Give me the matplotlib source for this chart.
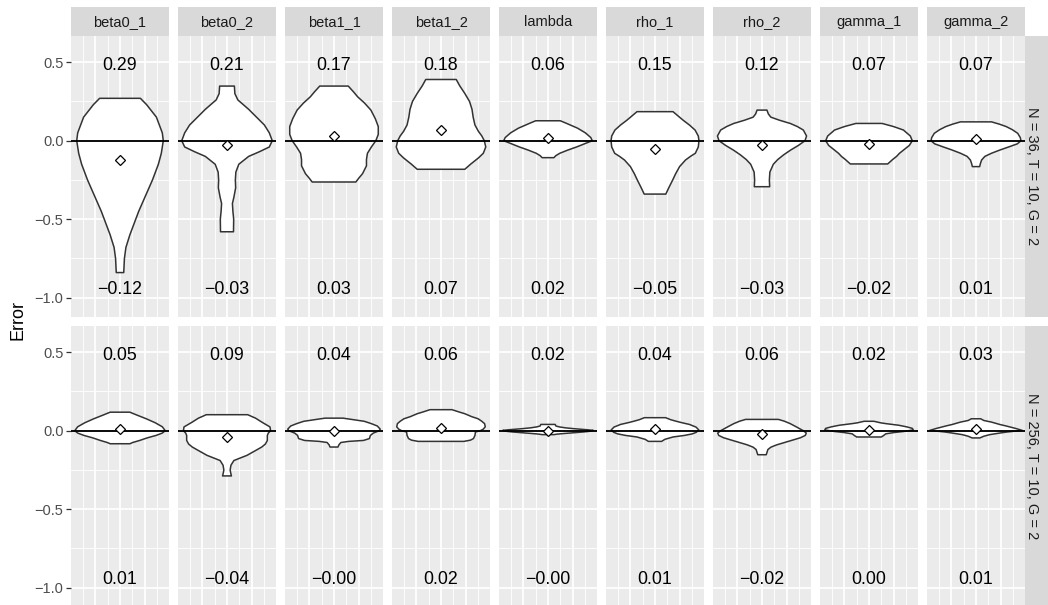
import matplotlib.pyplot as plt
from matplotlib.patches import Polygon
import numpy as np

plt.rcParams['font.family'] = ['Liberation Sans', 'DejaVu Sans']

params = ['beta0_1', 'beta0_2', 'beta1_1', 'beta1_2', 'lambda',
          'rho_1', 'rho_2', 'gamma_1', 'gamma_2']
designs = ['N = 36, T = 10, G = 2', 'N = 256, T = 10, G = 2']

# rmse (top number) and mean error (bottom number) per parameter
rmse_36 = [0.29, 0.21, 0.17, 0.18, 0.06, 0.15, 0.12, 0.07, 0.07]
rmse_256 = [0.05, 0.09, 0.04, 0.06, 0.02, 0.04, 0.06, 0.02, 0.03]
bias_36 = [-0.12, -0.03, 0.03, 0.07, 0.02, -0.05, -0.03, -0.02, 0.01]
bias_256 = [0.01, -0.04, -0.003, 0.02, -0.002, 0.01, -0.02, 0.004, 0.01]

# violin outlines: (error, half width in 1/100 x units), top to bottom
violin_36 = [
    [(0.27, 20.7), (0.23, 27), (0.15, 37), (0.05, 43), (0.0, 44), (-0.08, 42),
     (-0.15, 39), (-0.25, 33), (-0.35, 26), (-0.45, 19), (-0.5, 16),
     (-0.6, 10), (-0.68, 6), (-0.75, 4.5), (-0.84, 3.8)],
    [(0.348, 7.5), (0.30, 8), (0.26, 11), (0.2, 22), (0.15, 30), (0.1, 38),
     (0.05, 43), (0.0, 46), (-0.04, 43), (-0.07, 33), (-0.1, 22),
     (-0.15, 12), (-0.2, 9), (-0.25, 8.5), (-0.3, 8.8), (-0.36, 7),
     (-0.4, 5.5), (-0.45, 6), (-0.5, 6.8), (-0.58, 6.6)],
    [(0.348, 14.5), (0.31, 20), (0.28, 24), (0.24, 31), (0.195, 37.5),
     (0.14, 42), (0.09, 45), (0.04, 45), (0.0, 42.5), (-0.04, 38),
     (-0.08, 34), (-0.12, 33), (-0.16, 33), (-0.21, 29), (-0.24, 25),
     (-0.263, 22.2)],
    [(0.39, 15.5), (0.35, 19), (0.30, 24.3), (0.25, 29), (0.20, 31.5),
     (0.15, 32.7), (0.10, 34.5), (0.06, 38), (0.03, 41.5), (0.0, 44),
     (-0.04, 45.5), (-0.08, 43), (-0.11, 38), (-0.15, 30), (-0.182, 24.2)],
    [(0.127, 12.5), (0.11, 19), (0.08, 30), (0.05, 38), (0.02, 43.5),
     (0.0, 45), (-0.02, 37), (-0.04, 29), (-0.06, 20), (-0.08, 12),
     (-0.095, 8), (-0.108, 6)],
    [(0.185, 18.3), (0.16, 23), (0.13, 28.7), (0.1, 35), (0.068, 40.7),
     (0.03, 44), (0.0, 44.7), (-0.04, 44), (-0.08, 41), (-0.1, 36),
     (-0.123, 31), (-0.165, 25), (-0.21, 21), (-0.25, 18), (-0.3, 14),
     (-0.34, 11)],
    [(0.195, 5), (0.17, 6.5), (0.15, 9), (0.13, 18), (0.11, 28.7),
     (0.09, 36), (0.068, 42), (0.03, 45.3), (0.0, 43.7), (-0.03, 37),
     (-0.06, 29), (-0.09, 22), (-0.12, 16), (-0.15, 11.5), (-0.2, 8),
     (-0.25, 7.5), (-0.293, 7.8)],
    [(0.11, 13.3), (0.09, 25), (0.068, 35), (0.03, 42), (0.0, 44),
     (-0.03, 41), (-0.06, 35), (-0.08, 31), (-0.1, 28), (-0.12, 24),
     (-0.148, 19)],
    [(0.12, 15.8), (0.105, 24), (0.09, 30.7), (0.07, 37), (0.047, 42.4),
     (0.02, 45), (0.0, 45.7), (-0.02, 42), (-0.038, 34), (-0.06, 24),
     (-0.08, 15.7), (-0.1, 9), (-0.123, 5.7), (-0.145, 4.5), (-0.165, 3.7)],
]
violin_256 = [
    [(0.118, 10), (0.1, 17), (0.076, 26.7), (0.05, 36), (0.025, 43),
     (0.0, 46), (-0.015, 43), (-0.03, 36.7), (-0.045, 28), (-0.062, 20),
     (-0.075, 13), (-0.083, 10)],
    [(0.102, 21), (0.08, 29), (0.055, 35.3), (0.024, 43.7), (0.0, 44.3),
     (-0.015, 42), (-0.03, 41), (-0.062, 41), (-0.085, 39), (-0.104, 35.3),
     (-0.13, 28), (-0.157, 20.3), (-0.175, 13), (-0.19, 7), (-0.22, 4),
     (-0.25, 3.2), (-0.27, 3.8), (-0.288, 4.5)],
    [(0.08, 9.2), (0.07, 20), (0.06, 30.7), (0.045, 38), (0.03, 44),
     (0.01, 47), (0.0, 46), (-0.015, 40), (-0.03, 37), (-0.05, 36),
     (-0.062, 30), (-0.068, 15), (-0.075, 7), (-0.09, 5), (-0.104, 4)],
    [(0.134, 11.2), (0.12, 18), (0.108, 24.3), (0.09, 31), (0.076, 37.7),
     (0.06, 41.5), (0.045, 44.3), (0.025, 45), (0.01, 43), (0.0, 40),
     (-0.008, 35), (-0.03, 34.5), (-0.05, 33), (-0.06, 30), (-0.068, 23.3)],
    [(0.04, 7.3), (0.03, 8), (0.024, 11.7), (0.018, 18), (0.012, 28),
     (0.006, 40), (0.002, 46), (-0.004, 42), (-0.008, 36), (-0.013, 26),
     (-0.018, 16), (-0.022, 9), (-0.025, 6)],
    [(0.083, 10.8), (0.07, 16), (0.06, 21.7), (0.05, 28), (0.04, 35),
     (0.023, 41.7), (0.005, 44.5), (-0.01, 42), (-0.02, 38), (-0.03, 30),
     (-0.04, 18.3), (-0.055, 10), (-0.068, 6.7)],
    [(0.072, 16.7), (0.06, 23), (0.045, 28.7), (0.023, 35.3), (0.0, 42),
     (-0.015, 45), (-0.03, 44), (-0.045, 39), (-0.06, 31), (-0.075, 23),
     (-0.09, 15), (-0.105, 9), (-0.12, 6), (-0.153, 4.3)],
    [(0.06, 5), (0.05, 12), (0.045, 17.3), (0.035, 30), (0.025, 38),
     (0.015, 44), (0.005, 45), (-0.005, 35), (-0.012, 25), (-0.02, 17),
     (-0.03, 15), (-0.04, 12.5)],
    [(0.076, 4.7), (0.065, 8), (0.055, 15.7), (0.04, 24), (0.03, 30.7),
     (0.015, 40), (0.002, 47), (-0.008, 32), (-0.015, 24), (-0.025, 14),
     (-0.035, 8), (-0.046, 4)],
]

rows = [(rmse_36, bias_36, violin_36), (rmse_256, bias_256, violin_256)]
yticks = [-1.0, -0.5, 0.0, 0.5]

W, H = 1048, 605
fig = plt.figure(figsize=(W / 100, H / 100), dpi=100)


def add_ax(left, top, width, height):
    return fig.add_axes([left / W, 1 - (top + height) / H, width / W, height / H])


def strip_ax(left, top, width, height):
    st = add_ax(left, top, width, height)
    st.set_facecolor('#D9D9D9')
    st.set_xticks([])
    st.set_yticks([])
    for s in st.spines.values():
        s.set_visible(False)
    return st


def fmt(v, nd=2):
    return f'{v:.{nd}f}'.replace('-', '\u2212')


col_left, col_step, col_w = 71.3, 107.0, 97.4
row_top, row_h = [36.0, 326.0], 281.0

for r, (rmse, bias, shapes) in enumerate(rows):
    for c, name in enumerate(params):
        ax = add_ax(col_left + col_step * c, row_top[r], col_w, row_h)
        ax.set_facecolor('#EBEBEB')
        ax.set_xlim(0.505, 1.495)
        ax.set_ylim(-1.123, 0.667)
        for s in ax.spines.values():
            s.set_visible(False)
        # panel grid
        for y in yticks:
            ax.axhline(y, color='white', lw=1.25, zorder=0)
        for y in [-0.75, -0.25, 0.25]:
            ax.axhline(y, color='white', lw=0.62, zorder=0)
        for x in [0.75, 1.0, 1.25]:
            ax.axvline(x, color='white', lw=1.25, zorder=0)
        for x in [0.625, 0.875, 1.125, 1.375]:
            ax.axvline(x, color='white', lw=0.62, zorder=0)

        prof = np.array(shapes[c])
        ys, hw = prof[:, 0], prof[:, 1] / 100.0
        xs = np.concatenate([1 - hw, (1 + hw)[::-1]])
        yy = np.concatenate([ys, ys[::-1]])
        ax.add_patch(Polygon(np.column_stack([xs, yy]), closed=True,
                             facecolor='white', edgecolor='#333333',
                             lw=1.1, joinstyle='round', zorder=2))
        ax.axhline(0, color='black', lw=1.35, zorder=3)
        ax.plot([1], [bias[c]], marker='D', ms=5.6, mfc='white', mec='black',
                mew=0.9, zorder=4)
        ax.text(1, 0.48, fmt(rmse[c]), ha='center', va='center',
                fontsize=12.8, color='black', zorder=5)
        ax.text(1, -0.945, fmt(bias[c]), ha='center', va='center',
                fontsize=12.8, color='black', zorder=5)

        ax.set_xticks([])
        if c == 0:
            ax.set_yticks(yticks)
            ax.set_yticklabels([fmt(v, 1) for v in yticks])
            ax.tick_params(axis='y', length=3.3, width=0.9, color='#333333',
                           labelsize=10.5, labelcolor='#4D4D4D', pad=2.4)
        else:
            ax.set_yticks([])

        if r == 0:
            st = strip_ax(col_left + col_step * c, 7.3, col_w, 28.7)
            st.text(0.5, 0.5, name, ha='center', va='center', fontsize=10.5,
                    color='#1A1A1A', transform=st.transAxes)

    st = strip_ax(1025, row_top[r], 23, row_h)
    st.text(0.3, 0.5, designs[r], ha='center', va='center', rotation=-90,
            fontsize=10.5, color='#1A1A1A', transform=st.transAxes)

fig.text(18 / W, 1 - 320 / H, 'Error', rotation=90, ha='center', va='center',
         fontsize=13, color='black')

fig.savefig('out.png', dpi=100)
